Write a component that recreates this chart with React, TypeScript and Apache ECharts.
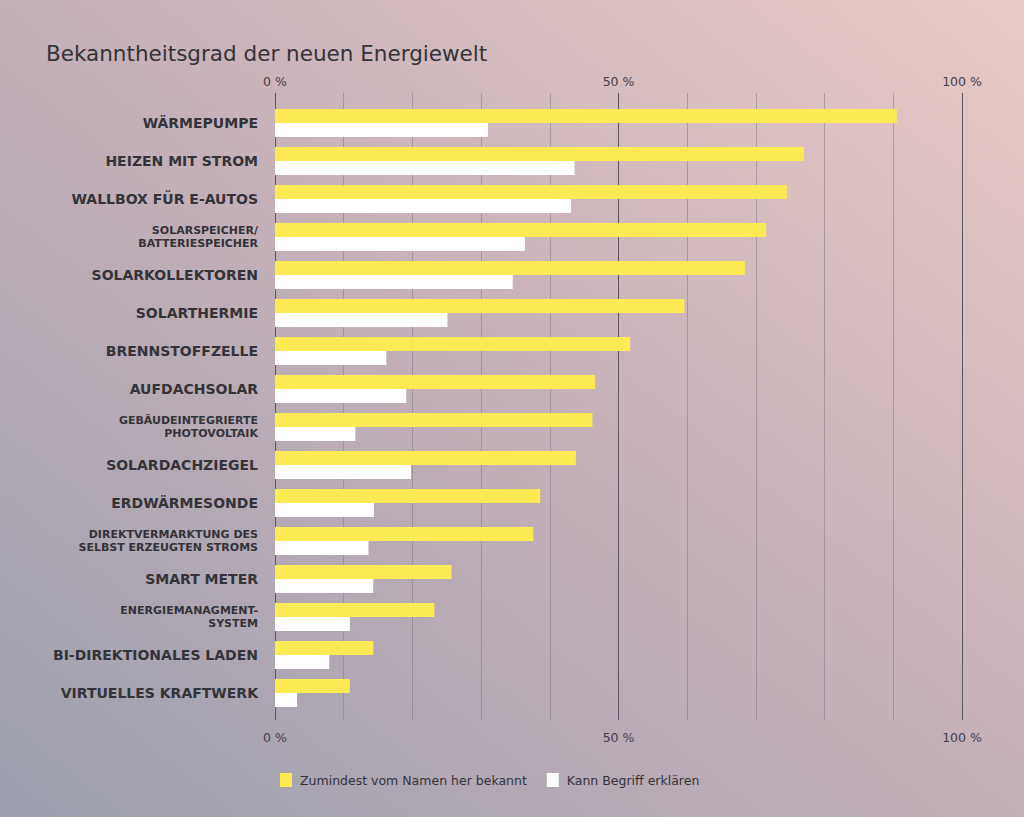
import React, { useEffect, useRef } from "react";
import * as echarts from "echarts";

const categories = [
  "WÄRMEPUMPE",
  "HEIZEN MIT STROM",
  "WALLBOX FÜR E-AUTOS",
  "SOLARSPEICHER/\nBATTERIESPEICHER",
  "SOLARKOLLEKTOREN",
  "SOLARTHERMIE",
  "BRENNSTOFFZELLE",
  "AUFDACHSOLAR",
  "GEBÄUDEINTEGRIERTE\nPHOTOVOLTAIK",
  "SOLARDACHZIEGEL",
  "ERDWÄRMESONDE",
  "DIREKTVERMARKTUNG DES\nSELBST ERZEUGTEN STROMS",
  "SMART METER",
  "ENERGIEMANAGMENT-\nSYSTEM",
  "BI-DIREKTIONALES LADEN",
  "VIRTUELLES KRAFTWERK",
];

const knownByName = [90.5, 77, 74.5, 71.5, 68.4, 59.6, 51.7, 46.6, 46.2, 43.8, 38.6, 37.6, 25.7, 23.2, 14.3, 10.9];
const canExplain = [31, 43.6, 43.1, 36.4, 34.6, 25.1, 16.2, 19.1, 11.7, 19.8, 14.4, 13.6, 14.3, 10.9, 7.9, 3.2];

const seriesNames = ["Zumindest vom Namen her bekannt", "Kann Begriff erklären"];
const title = "Bekanntheitsgrad der neuen Energiewelt";
const tickValues = [0, 50, 100];

const FONT = "DejaVu Sans";

export default function App() {
  const ref = useRef<HTMLDivElement>(null);
  useEffect(() => {
    document.body.style.margin = "0";
    const chart = echarts.init(ref.current!, null, { renderer: "svg" });
    const lineColors = Array.from({ length: 11 }, (_, i) =>
      tickValues.includes(i * 10) ? "#5a5560" : "rgba(120,110,120,0.45)"
    );
    const labelFmt = (v: number) => (tickValues.includes(v) ? `${v} %` : "");
    chart.setOption({
      animation: false,
      backgroundColor: {
        type: "linear",
        x: 0,
        y: 1,
        x2: 1,
        y2: 0,
        colorStops: [
          { offset: 0, color: "#9c9fae" },
          { offset: 0.5, color: "#c4b0b8" },
          { offset: 1, color: "#e8cac6" },
        ],
      },
      title: {
        text: title,
        left: 41,
        top: 37,
        textStyle: { fontFamily: FONT, fontSize: 21.5, fontWeight: 500, color: "#333338" },
      },
      legend: {
        left: 275,
        top: 768,
        itemWidth: 12,
        itemHeight: 14,
        itemGap: 20,
        icon: "rect",
        textStyle: { fontFamily: FONT, fontSize: 12.5, color: "#333338", padding: [0, 0, 0, 3] },
        data: seriesNames,
      },
      grid: [
        { left: 275, right: 62, top: 93, bottom: 97 },
        { left: 275, right: 62, top: 104, bottom: 105 },
      ],
      xAxis: [
        {
          gridIndex: 0,
          type: "value",
          position: "top",
          min: 0,
          max: 100,
          interval: 10,
          axisLine: { show: false },
          axisTick: { show: false },
          splitLine: { show: true, lineStyle: { color: lineColors, width: 1 } },
          axisLabel: { formatter: labelFmt, fontFamily: FONT, fontSize: 12.5, color: "#444048", margin: 5 },
        },
        {
          gridIndex: 0,
          type: "value",
          position: "bottom",
          min: 0,
          max: 100,
          interval: 10,
          axisLine: { show: false },
          axisTick: { show: false },
          splitLine: { show: false },
          axisLabel: { formatter: labelFmt, fontFamily: FONT, fontSize: 12.5, color: "#444048", margin: 11 },
        },
        {
          gridIndex: 1,
          type: "value",
          min: 0,
          max: 100,
          show: false,
        },
      ],
      yAxis: [
        { gridIndex: 0, type: "value", show: false },
        {
          gridIndex: 1,
          type: "category",
          inverse: true,
          data: categories,
          axisLine: { show: false },
          axisTick: { show: false },
          axisLabel: {
            margin: 17,
            formatter: (v: string) =>
              v.includes("\n")
                ? v
                    .split("\n")
                    .map((l) => `{s|${l}}`)
                    .join("\n")
                : `{b|${v}}`,
            rich: {
              b: { fontFamily: FONT, fontSize: 14, fontWeight: "bold", color: "#333338", align: "right" },
              s: { fontFamily: FONT, fontSize: 11, fontWeight: "bold", color: "#333338", lineHeight: 13, align: "right" },
            },
          },
        },
      ],
      series: [
        {
          name: seriesNames[0],
          type: "bar",
          xAxisIndex: 2,
          yAxisIndex: 1,
          data: knownByName,
          barWidth: 14,
          barGap: "0%",
          itemStyle: { color: "#fcea55" },
        },
        {
          name: seriesNames[1],
          type: "bar",
          xAxisIndex: 2,
          yAxisIndex: 1,
          data: canExplain,
          barWidth: 14,
          barGap: "0%",
          itemStyle: { color: "#ffffff" },
        },
      ],
    });
    return () => chart.dispose();
  }, []);
  return <div ref={ref} style={{ width: 1024, height: 817 }} />;
}
